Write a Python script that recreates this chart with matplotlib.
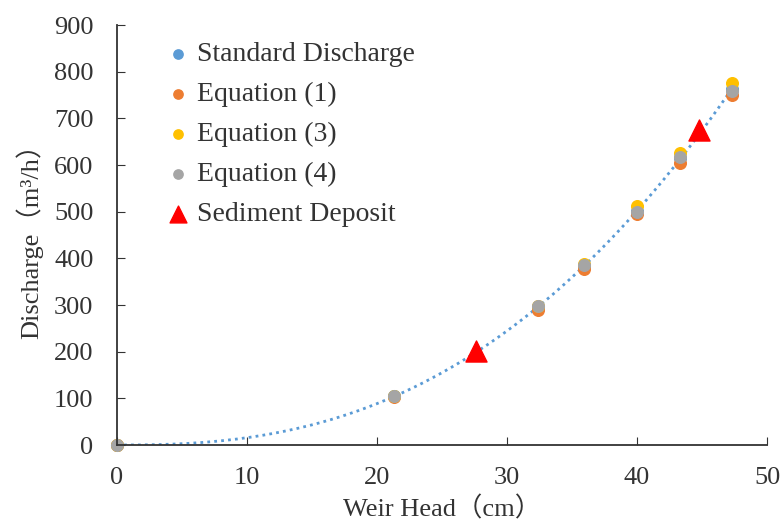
import matplotlib
matplotlib.use("Agg")
import matplotlib.pyplot as plt
import numpy as np

plt.rcParams['font.family'] = ['Liberation Serif', 'Noto Sans CJK SC']

# Weir head (cm) and discharges (m3/h)
head = [0, 21.3, 32.4, 35.9, 40.0, 43.3, 47.3]
q_standard = [0, 104, 295, 383, 502, 615, 762]
q_eq1 = [0, 102, 290, 378, 496, 605, 750]
q_eq3 = [0, 106, 298, 388, 512, 625, 775]
q_eq4 = [0, 105, 297, 385, 500, 617, 758]

sed_head = [27.6, 44.8]
sed_q = [201, 675]

# power trendline fitted to the standard discharge (like Excel)
h = np.array(head[1:])
q = np.array(q_standard[1:])
b, ln_a = np.polyfit(np.log(h), np.log(q), 1)
h_fit = np.linspace(0.01, max(head), 200)
q_fit = np.exp(ln_a) * h_fit ** b

fig = plt.figure(figsize=(7.82, 5.3), dpi=100)
ax = fig.add_axes([117 / 782, 85 / 530, 650 / 782, 420 / 530])

txt = "#333333"
ax.plot(h_fit, q_fit, color="#5B9BD5", ls=(0, (1, 1.5)), lw=2, zorder=1)
ms = 70
ax.scatter(head, q_standard, s=ms, color="#5B9BD5", label="Standard Discharge", zorder=2, clip_on=False)
ax.scatter(head, q_eq1, s=ms, color="#ED7D31", label="Equation (1)", zorder=2, clip_on=False)
ax.scatter(head, q_eq3, s=ms, color="#FFC000", label="Equation (3)", zorder=2, clip_on=False)
ax.scatter(head, q_eq4, s=ms, color="#A5A5A5", label="Equation (4)", zorder=2, clip_on=False)
ax.scatter(sed_head, sed_q, s=230, marker="^", color="#FF0000", label="Sediment Deposit", zorder=3)

ax.set_xlim(0, 50)
ax.set_ylim(0, 900)
ax.set_xticks(range(0, 51, 10))
ax.set_yticks(range(0, 901, 100))
ax.tick_params(direction="in", length=6, labelsize=19, colors=txt)
ax.tick_params(axis="y", pad=17)
ax.tick_params(axis="x", pad=16)
for side in ("top", "right"):
    ax.spines[side].set_visible(False)
for side in ("left", "bottom"):
    ax.spines[side].set_color(txt)
    ax.spines[side].set_linewidth(1.3)

ax.set_xlabel("Weir Head（cm）", fontsize=19, color=txt, labelpad=5)
ax.set_ylabel("Discharge（m³/h）", fontsize=19, color=txt, labelpad=8)

leg = ax.legend(loc="upper left", bbox_to_anchor=(164 / 782, 1 - 42 / 530),
                bbox_transform=fig.transFigure, frameon=False,
                fontsize=20, handletextpad=0.2, labelspacing=0.52,
                markerscale=0.8, handlelength=1.0, borderaxespad=0, borderpad=0)
for t in leg.get_texts():
    t.set_color(txt)

plt.savefig("out.png", dpi=100)
